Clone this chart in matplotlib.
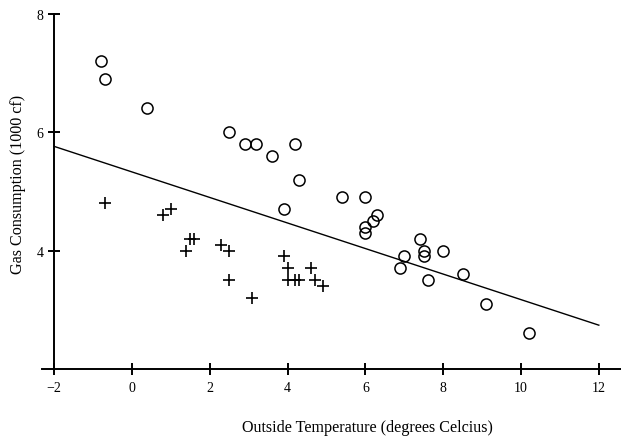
import numpy as np
import matplotlib.pyplot as plt

# before insulation (circles)
before_temp = [-0.8, -0.7, 0.4, 2.5, 2.9, 3.2, 3.6, 3.9, 4.2, 4.3, 5.4, 6.0, 6.0, 6.0,
               6.2, 6.3, 6.9, 7.0, 7.4, 7.5, 7.5, 7.6, 8.0, 8.5, 9.1, 10.2]
before_gas = [7.2, 6.9, 6.4, 6.0, 5.8, 5.8, 5.6, 4.7, 5.8, 5.2, 4.9, 4.9, 4.3, 4.4,
              4.5, 4.6, 3.7, 3.9, 4.2, 4.0, 3.9, 3.5, 4.0, 3.6, 3.1, 2.6]

# after insulation (crosses)
after_temp = [-0.7, 0.8, 1.0, 1.4, 1.5, 1.6, 2.3, 2.5, 2.5, 3.1, 3.9, 4.0, 4.0,
              4.2, 4.3, 4.6, 4.7, 4.9]
after_gas = [4.8, 4.6, 4.7, 4.0, 4.2, 4.2, 4.1, 4.0, 3.5, 3.2, 3.9, 3.5, 3.7,
             3.5, 3.5, 3.7, 3.5, 3.4]

# fitted line
fit_x = [-2, 12]
fit_y = [5.76, 2.74]

xticks = [-2, 0, 2, 4, 6, 8, 10, 12]
yticks = [4, 6, 8]

plt.rcParams['font.family'] = ['Liberation Serif', 'DejaVu Serif']

fig = plt.figure(figsize=(6.21, 4.39), dpi=100)
ax = fig.add_axes([0.0676, 0.1572, 0.9324, 0.8093])

ax.plot(fit_x, fit_y, color='black', lw=1.0)
ax.plot(before_temp, before_gas, 'o', ms=8, mfc='none', mec='black', mew=1.1)
ax.plot(after_temp, after_gas, '+', ms=9, color='black', mew=1.2)

ax.set_xlim(-2.31, 12.57)
ax.set_ylim(2, 8.0)

for s in ['top', 'right']:
    ax.spines[s].set_visible(False)
ax.spines['left'].set_position(('data', -2))
ax.spines['left'].set_bounds(2, 8)
ax.spines['bottom'].set_position(('data', 2))
for s in ['left', 'bottom']:
    ax.spines[s].set_linewidth(1.4)

ax.set_xticks(xticks)
ax.set_yticks(yticks)
ax.tick_params(direction='inout', length=9, width=1.4, labelsize=10, pad=3)
ax.tick_params(axis='x', pad=4)

fig.text(0.592, 0.025, 'Outside Temperature (degrees Celcius)', ha='center',
         va='center', fontsize=11.6)
fig.text(0.029, 0.581, 'Gas Consumption (1000 cf)', ha='center', va='center',
         rotation=90, fontsize=11.6)

fig.savefig('out.png', dpi=100)
